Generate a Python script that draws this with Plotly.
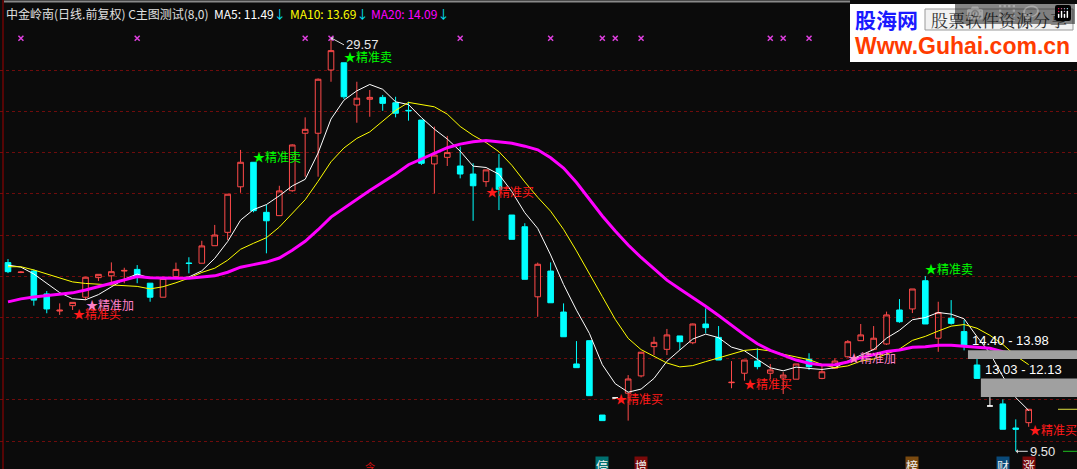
import pandas as pd
import plotly.graph_objects as go

# ---------------- data ----------------
open_ = [18.66, 18.18, 18.25, 17.14, 16.31, 16.57, 16.98, 17.93, 18.02, 18.25,
         18.33, 17.66, 16.98, 17.98, 18.64, 18.63, 19.48, 20.13, 22.34, 23.53,
         21.10, 20.94, 22.15, 24.94, 24.94, 28.01, 28.36, 26.31, 26.59, 26.68,
         26.42, 26.05, 25.58, 23.45, 23.77, 23.35, 22.96, 22.59, 23.24, 20.97,
         20.40, 17.00, 18.25, 16.26, 13.74, 14.87, 11.26, 12.09, 12.32, 13.16,
         14.58, 14.45, 15.10, 14.77, 15.68, 15.03, 12.83, 13.29, 13.88, 13.29,
         13.06, 13.00, 13.97, 13.04, 13.53, 14.09, 14.87, 14.45, 14.71, 16.36,
         16.41, 17.78, 14.99, 15.96, 15.31, 13.69, 11.70, 11.80, 10.63, 10.89]
high_ = [18.83, 18.25, 18.33, 17.28, 16.68, 16.73, 17.97, 18.09, 18.67, 18.41,
         18.54, 17.66, 17.98, 18.66, 18.92, 19.72, 20.49, 21.98, 24.13, 23.53,
         21.46, 22.39, 24.40, 25.71, 27.60, 29.57, 28.36, 27.44, 27.04, 26.80,
         26.71, 26.47, 25.58, 25.26, 24.81, 24.29, 23.48, 23.16, 23.93, 20.97,
         20.57, 18.66, 18.67, 16.68, 14.85, 14.87, 11.26, 12.09, 13.20, 14.31,
         15.06, 15.44, 15.10, 15.70, 16.44, 15.58, 13.88, 13.93, 14.50, 13.74,
         13.35, 13.74, 14.26, 13.69, 14.01, 14.90, 15.68, 15.58, 16.28, 16.89,
         17.38, 18.01, 16.76, 16.84, 15.87, 13.98, 12.13, 12.02, 11.05, 11.54]
low_ = [18.15, 18.15, 16.57, 16.20, 16.12, 16.36, 16.84, 17.77, 17.66, 17.66,
        17.66, 16.76, 16.98, 17.98, 18.14, 18.63, 19.48, 19.76, 22.05, 21.10,
        19.11, 20.94, 22.10, 22.83, 22.83, 27.44, 26.60, 25.45, 25.74, 26.03,
        25.71, 25.55, 23.40, 22.02, 23.35, 22.75, 20.69, 22.34, 21.21, 19.79,
        17.85, 16.03, 16.71, 15.06, 13.56, 12.20, 10.99, 12.09, 10.99, 13.09,
        14.17, 14.17, 14.42, 14.70, 15.23, 13.93, 12.56, 12.93, 13.48, 13.00,
        12.28, 13.00, 13.45, 13.00, 13.50, 14.05, 14.85, 14.40, 14.66, 15.74,
        16.21, 15.68, 14.33, 15.65, 14.40, 13.03, 11.70, 10.57, 9.50, 10.69]
close_ = [18.22, 18.20, 16.84, 16.41, 16.35, 16.73, 17.95, 18.09, 18.22, 18.28,
          17.98, 16.98, 17.90, 18.33, 18.62, 19.47, 20.00, 21.98, 23.53, 21.18,
          20.69, 22.14, 24.37, 25.13, 27.56, 28.95, 26.71, 26.64, 26.68, 26.39,
          25.91, 26.03, 23.48, 23.88, 24.00, 22.96, 22.39, 23.16, 22.22, 19.79,
          17.85, 18.58, 16.71, 15.06, 13.56, 12.20, 10.99, 12.09, 13.01, 14.31,
          14.79, 15.15, 14.82, 15.68, 15.50, 13.93, 12.85, 13.93, 13.61, 13.45,
          13.20, 13.74, 13.61, 13.36, 13.88, 14.82, 15.15, 14.99, 16.12, 15.79,
          17.38, 15.68, 16.23, 15.71, 14.66, 13.04, 11.70, 10.57, 10.57, 11.54]
flat_bars = [47, 76]
# closes before the visible window (estimated from where the MA lines start)
prior_close = [15.3, 15.1, 15.2, 15.0, 15.2, 15.1, 14.9, 15.0, 14.8, 14.9,
               18.2, 18.4, 18.3, 18.5, 18.5, 18.7, 18.5, 18.6, 18.68]

title_text = "中金岭南(日线.前复权) C主图测试(8,0)"
ma_names = ["MA5", "MA10", "MA20"]
ma_periods = [5, 10, 20]
ma_title_vals = [11.49, 13.69, 14.09]

sell_bars, sell_prices = [19, 26, 71], [23.79, 28.66, 18.35]
buy_bars, buy_prices = [5, 37, 47, 57, 79], [16.17, 22.10, 12.06, 12.80, 10.58]
add_bars, add_prices = [6, 65], [16.65, 14.06]
mark_bars = [1, 10, 23, 25, 35, 42, 46, 47, 49, 59, 60, 62]
mark_price = 29.55
gap_start = [74, 75]
gap_hi = [14.40, 13.03]
gap_lo = [13.98, 12.13]
peak_bar, peak_price = 25, 29.57
trough_bar, trough_price = 78, 9.50
grid_prices = [10, 12, 14, 16, 18, 20, 22, 24, 26, 28]
tag_bars = [46, 49, 70, 77, 79]
tag_texts = ["停", "增", "榜", "财", "涨"]
tag_colors = ["#007070", "#7a0a0a", "#7a4a10", "#0a4a7a", "#7a0a0a"]

# ---------------- layout calibration ----------------
W, H = 1077, 469
X0_PX, DX_PX = 8.0, 12.92          # pixel of bar 0, pixels per bar
Y_REF_PX, Y_REF_P, PX_PER = 441.0, 10.0, 20.6
x_range = [(0 - X0_PX) / DX_PX, (W - X0_PX) / DX_PX]
y_range = [Y_REF_P - (H - Y_REF_PX) / PX_PER, Y_REF_P + Y_REF_PX / PX_PER]
BG = "#0b0b0b"
RED, CYAN = "#ff4a4a", "#00ffff"
CJK = "Noto Sans CJK SC"


def dx(px):
    return (px - X0_PX) / DX_PX


def pxp(px):
    return px / W


def pyp(py):
    return 1 - py / H


n = len(close_)
idx = list(range(n))
up = [i for i in idx if i not in flat_bars and close_[i] >= open_[i]]
dn = [i for i in idx if i not in flat_bars and close_[i] < open_[i]]

fig = go.Figure()


def candles(ids, line_col, fill_col):
    fig.add_trace(go.Candlestick(
        x=ids, open=[open_[i] for i in ids], high=[high_[i] for i in ids],
        low=[low_[i] for i in ids], close=[close_[i] for i in ids],
        increasing=dict(line=dict(color=line_col, width=1), fillcolor=fill_col),
        decreasing=dict(line=dict(color=line_col, width=1), fillcolor=fill_col),
        whiskerwidth=0, hoverinfo="skip", showlegend=False))


candles(up, RED, "rgba(0,0,0,0)")
candles(dn, CYAN, CYAN)
candles(flat_bars, "#ffffff", "#ffffff")

# moving averages
s = pd.Series(prior_close + close_)
ma_colors = ["#ffffff", "#ffff00", "#ff00ff"]
ma_widths = [1, 1, 3]
for per, col, w in zip(ma_periods, ma_colors, ma_widths):
    ma = s.rolling(per).mean().iloc[len(prior_close):].tolist()
    fig.add_trace(go.Scatter(x=idx, y=ma, mode="lines",
                             line=dict(color=col, width=w), hoverinfo="skip"))

# magenta x markers
fig.add_trace(go.Scatter(x=mark_bars, y=[mark_price] * len(mark_bars), mode="markers",
                         marker=dict(symbol="x-thin", size=5,
                                     line=dict(color="#e040e0", width=1.5)),
                         hoverinfo="skip"))

ann = []
shapes = []

# signal labels
for bars, prices, txt, col in [(sell_bars, sell_prices, "★精准卖", "#00ff00"),
                               (buy_bars, buy_prices, "★精准买", "#ff1a1a"),
                               (add_bars, add_prices, "★精准加", "#ff80c8")]:
    for b, p in zip(bars, prices):
        ann.append(dict(x=b, y=p, xref="x", yref="y", text=txt, showarrow=False,
                        xanchor="left", yanchor="middle", xshift=-2,
                        font=dict(family=CJK, size=12, color=col)))

# peak / trough labels
ann.append(dict(x=peak_bar, y=peak_price, xref="x", yref="y", text=f"{peak_price:.2f}",
                showarrow=True, arrowhead=1, arrowsize=0.7, arrowwidth=1,
                arrowcolor="#dddddd", ax=13, ay=7, xanchor="left", yanchor="middle",
                font=dict(family="Liberation Sans", size=13, color="#e8e8e8")))
ann.append(dict(x=trough_bar, y=trough_price, xref="x", yref="y",
                text=f"{trough_price:.2f}", showarrow=True, arrowhead=1,
                arrowsize=0.7, arrowwidth=1, arrowcolor="#dddddd", ax=12, ay=0,
                xanchor="left", yanchor="middle",
                font=dict(family="Liberation Sans", size=13, color="#e8e8e8")))

# gap boxes
for g, hi, lo in zip(gap_start, gap_hi, gap_lo):
    shapes.append(dict(type="rect", xref="x", yref="y", x0=g + 0.3, x1=x_range[1],
                       y0=lo, y1=hi, fillcolor="#a0a0a0", line=dict(width=0),
                       layer="above"))
    ann.append(dict(x=g + 0.45, y=hi, xref="x", yref="y", text=f"{hi:.2f} - {lo:.2f}",
                    showarrow=False, xanchor="left", yanchor="bottom", yshift=0,
                    font=dict(family="Liberation Sans", size=13, color="#ffffff")))

# right-edge level marks
shapes.append(dict(type="line", xref="x", yref="y", x0=dx(1058), x1=x_range[1],
                   y0=close_[-1], y1=close_[-1], line=dict(color="#e0e040", width=1)))
shapes.append(dict(type="line", xref="x", yref="y", x0=dx(1063), x1=x_range[1],
                   y0=min(low_), y1=min(low_), line=dict(color="#20c020", width=1)))

# frame details
shapes.append(dict(type="line", xref="paper", yref="paper", x0=pxp(3), x1=pxp(3),
                   y0=0, y1=1, line=dict(color="#a00000", width=1)))
shapes.append(dict(type="line", xref="paper", yref="paper", x0=pxp(4), x1=pxp(850),
                   y0=pyp(1.5), y1=pyp(1.5), line=dict(color="#8a8a8a", width=2)))

# title row
ann.append(dict(x=pxp(4), y=pyp(13), xref="paper", yref="paper", text=title_text,
                showarrow=False, xanchor="left", yanchor="middle",
                font=dict(family=CJK, size=12, color="#e0e0e0")))
title_x = [212, 288, 369]
for name, val, col, tx in zip(ma_names, ma_title_vals, ma_colors, title_x):
    ann.append(dict(x=pxp(tx), y=pyp(13), xref="paper", yref="paper",
                    text=f"{name}: {val:.2f}<span style='color:#00e8ff'>↓</span>",
                    showarrow=False, xanchor="left", yanchor="middle",
                    font=dict(family=CJK, size=12, color=col)))

# bottom tags
for b, t, c in zip(tag_bars, tag_texts, tag_colors):
    ann.append(dict(x=b, y=pyp(456), xref="x", yref="paper", text=t, showarrow=False,
                    xanchor="center", yanchor="top", bgcolor=c, borderpad=0,
                    font=dict(family=CJK, size=12, color="#f0f0f0")))
ann.append(dict(x=28, y=pyp(457), xref="x", yref="paper", text="令", showarrow=False,
                xanchor="center", yanchor="top",
                font=dict(family=CJK, size=10, color="#e01010")))

# watermark logo
shapes.append(dict(type="rect", xref="paper", yref="paper", x0=pxp(850), x1=1,
                   y0=pyp(62), y1=pyp(4), fillcolor="#ffffff", line=dict(width=0),
                   layer="above"))
shapes.append(dict(type="rect", xref="paper", yref="paper", x0=pxp(925), x1=pxp(1073),
                   y0=pyp(30), y1=pyp(9), fillcolor="#f2f2f2",
                   line=dict(color="#999999", width=1), layer="above"))
ann.append(dict(x=pxp(853), y=pyp(19), xref="paper", yref="paper", text="<b>股海网</b>",
                showarrow=False, xanchor="left", yanchor="middle",
                font=dict(family=CJK, size=21, color="#1a1aff")))
ann.append(dict(x=pxp(999), y=pyp(19.5), xref="paper", yref="paper", text="股票软件资源分享",
                showarrow=False, xanchor="center", yanchor="middle",
                font=dict(family="Noto Serif CJK SC, " + CJK, size=17, color="#333333")))
ann.append(dict(x=pxp(853), y=pyp(46), xref="paper", yref="paper",
                text="<b>Www.Guhai.com.cn</b>", showarrow=False, xanchor="left",
                yanchor="middle",
                font=dict(family="Liberation Sans", size=23, color="#ff3c00")))

fig.update_layout(
    width=W, height=H, margin=dict(l=0, r=0, t=0, b=0),
    paper_bgcolor=BG, plot_bgcolor=BG, showlegend=False, boxgap=0.38,
    xaxis=dict(range=x_range, showgrid=False, zeroline=False, showticklabels=False,
               rangeslider=dict(visible=False), fixedrange=True),
    yaxis=dict(range=y_range, tickvals=grid_prices, showticklabels=False,
               showgrid=True, gridcolor="#6e0c0c", griddash="dot", gridwidth=1,
               zeroline=False, ticks="", fixedrange=True),
    annotations=ann, shapes=shapes,
)

fig.write_html("out.html",
               post_script="document.body.style.margin='0px';"
                           "document.body.style.background='" + BG + "';")
